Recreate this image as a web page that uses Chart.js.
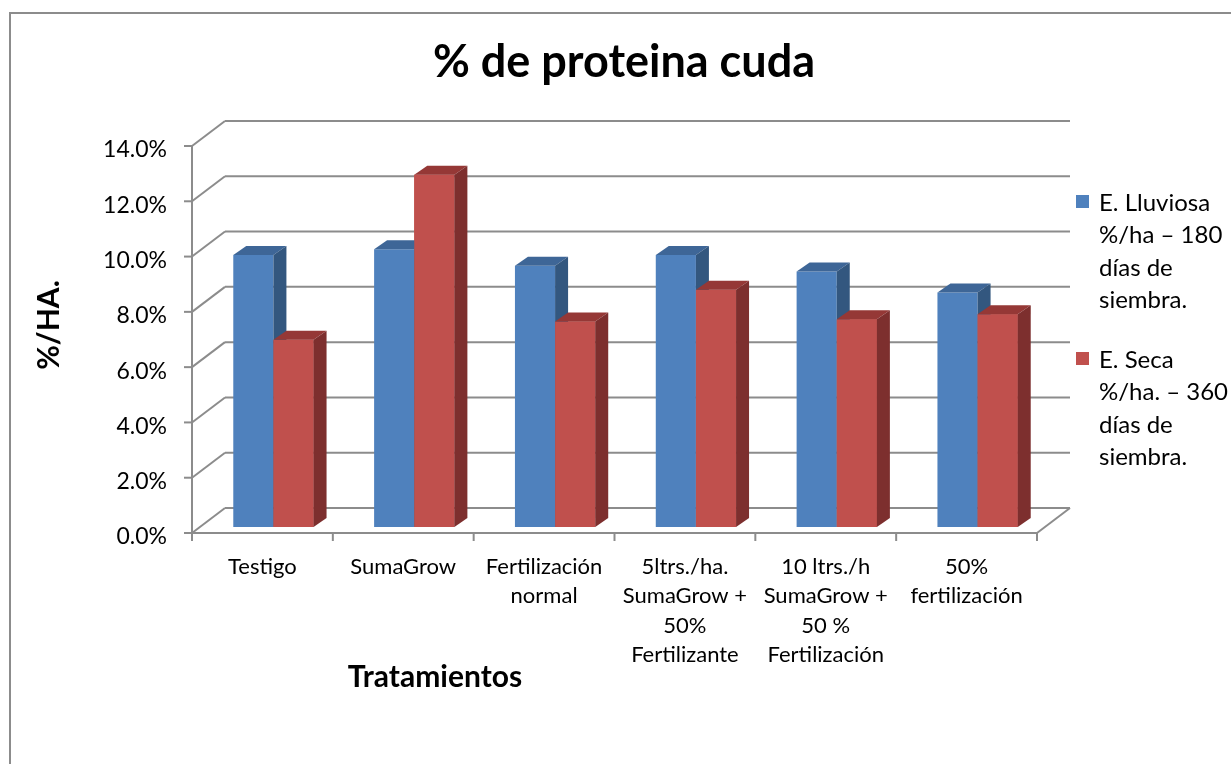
<!DOCTYPE html>
<html>
<head>
<meta charset="utf-8">
<title>% de proteina cuda</title>
<script src="https://cdn.jsdelivr.net/npm/chart.js@4.4.1/dist/chart.umd.min.js"></script>
<style>
  html, body { margin: 0; padding: 0; background: #fff; }
  #chart { display: block; }
</style>
</head>
<body>
<canvas id="chart" width="1231" height="764"></canvas>
<script>
// data (fractions, shown as %)
const categories = [
  ["Testigo"],
  ["SumaGrow"],
  ["Fertilización", "normal"],
  ["5ltrs./ha.", "SumaGrow +", "50%", "Fertilizante"],
  ["10 ltrs./h", "SumaGrow +", "50 %", "Fertilización"],
  ["50%", "fertilización"],
];
const lluviosa = [0.0984, 0.1005, 0.0945, 0.0984, 0.0924, 0.0848];
const seca = [0.0677, 0.1274, 0.0743, 0.0858, 0.0752, 0.0770];
const seriesLabels = [
  ["E. Lluviosa", "%/ha – 180", "días de", "siembra."],
  ["E. Seca", "%/ha. – 360", "días de", "siembra."],
];
const yTicks = { min: 0, max: 0.14, step: 0.02 };

const chartTitle = "% de proteina cuda";
const xTitle = "Tratamientos";
const yTitle = "%/HA.";

// colours: front, top, side
const blue = ["#4f81bd", "#3e6697", "#33577f"];
const red = ["#c0504d", "#953836", "#7d2f2e"];
const gridColor = "#8c8c8c";
const font = "Lato";

// 3d offsets relative to the bar plane
const FRONT = { dx: -11, dy: 6 };
const BACK = { dx: 22, dy: -19 };
const DEPTH = { dx: 13, dy: -9 };

function line(ctx, x1, y1, x2, y2) {
  ctx.beginPath();
  ctx.moveTo(x1, y1);
  ctx.lineTo(x2, y2);
  ctx.stroke();
}

function poly(ctx, pts, color) {
  ctx.beginPath();
  ctx.moveTo(pts[0][0], pts[0][1]);
  for (let p of pts.slice(1)) ctx.lineTo(p[0], p[1]);
  ctx.closePath();
  ctx.fillStyle = color;
  ctx.fill();
}

const wallsPlugin = {
  id: "walls",
  beforeDraw(chart) {
    const ctx = chart.ctx;
    ctx.save();
    ctx.strokeStyle = "#8c8c8c";
    ctx.lineWidth = 2;
    ctx.strokeRect(10, 13, 1400, 900);
    ctx.restore();
  },
  beforeDatasetsDraw(chart) {
    const { ctx, chartArea: a, scales } = chart;
    const x = scales.x, y = scales.y;
    ctx.save();
    ctx.strokeStyle = gridColor;
    ctx.lineWidth = 2;
    for (let t of y.ticks) {
      const py = y.getPixelForValue(t.value);
      line(ctx, a.left + BACK.dx, py + BACK.dy, a.right + BACK.dx, py + BACK.dy);
      line(ctx, a.left + FRONT.dx, py + FRONT.dy, a.left + BACK.dx, py + BACK.dy);
      line(ctx, a.left + FRONT.dx - 8, py + FRONT.dy, a.left + FRONT.dx, py + FRONT.dy);
    }
    const y0 = y.getPixelForValue(yTicks.min);
    const yTop = y.getPixelForValue(yTicks.max);
    // front vertical axis
    line(ctx, a.left + FRONT.dx, yTop + FRONT.dy, a.left + FRONT.dx, y0 + FRONT.dy);
    // floor front edge and right edge
    line(ctx, a.left + FRONT.dx, y0 + FRONT.dy, a.right + FRONT.dx, y0 + FRONT.dy);
    line(ctx, a.right + FRONT.dx, y0 + FRONT.dy, a.right + BACK.dx, y0 + BACK.dy);
    // category ticks
    for (let i = 0; i <= categories.length; i++) {
      const px = x.getPixelForValue(i - 0.5) + FRONT.dx;
      line(ctx, px, y0 + FRONT.dy, px, y0 + FRONT.dy + 8);
    }
    ctx.restore();
  },
  afterDatasetsDraw(chart) {
    const ctx = chart.ctx;
    const metas = [chart.getDatasetMeta(0), chart.getDatasetMeta(1)];
    const faces = [blue, red];
    ctx.save();
    for (let i = 0; i < categories.length; i++) {
      metas.forEach((meta, d) => {
        const el = meta.data[i];
        if (d > 0) el.draw(ctx);
        const { x, y, base, width } = el.getProps(["x", "y", "base", "width"], true);
        const l = x - width / 2, r = x + width / 2;
        poly(ctx, [[l, y], [r, y], [r + DEPTH.dx, y + DEPTH.dy], [l + DEPTH.dx, y + DEPTH.dy]], faces[d][1]);
        poly(ctx, [[r, y], [r + DEPTH.dx, y + DEPTH.dy], [r + DEPTH.dx, base + DEPTH.dy], [r, base]], faces[d][2]);
      });
    }
    ctx.restore();
  },
  afterDraw(chart) {
    const ctx = chart.ctx;
    ctx.save();
    ctx.fillStyle = "#000";
    ctx.textAlign = "center";
    ctx.textBaseline = "alphabetic";
    ctx.font = `bold 45px ${font}`;
    ctx.fillText(chartTitle, 624, 77);
    ctx.font = `bold 30px ${font}`;
    ctx.fillText(xTitle, 435, 687);
    ctx.save();
    ctx.translate(59, 325);
    ctx.rotate(-Math.PI / 2);
    ctx.fillText(yTitle, 0, 0);
    ctx.restore();

    // legend
    ctx.textAlign = "left";
    ctx.font = `24px ${font}`;
    const legendTop = [211, 368];
    const colors = [blue[0], red[0]];
    seriesLabels.forEach((lines, s) => {
      ctx.fillStyle = colors[s];
      ctx.fillRect(1076, legendTop[s] - 16, 13, 13);
      ctx.fillStyle = "#000";
      lines.forEach((txt, k) => ctx.fillText(txt, 1099, legendTop[s] + k * 32.3));
    });
    ctx.restore();
  },
};

async function run() {
  await Promise.all([
    document.fonts.load(`21px ${font}`),
    document.fonts.load(`bold 29px ${font}`),
  ]);

  new Chart(document.getElementById("chart"), {
    type: "bar",
    data: {
      labels: categories,
      datasets: [
        {
          label: seriesLabels[0].join(" "),
          data: lluviosa,
          backgroundColor: blue[0],
          categoryPercentage: 0.57,
          barPercentage: 1,
          borderWidth: 0,
        },
        {
          label: seriesLabels[1].join(" "),
          data: seca,
          backgroundColor: red[0],
          categoryPercentage: 0.57,
          barPercentage: 1,
          borderWidth: 0,
        },
      ],
    },
    options: {
      responsive: false,
      animation: false,
      events: [],
      layout: { padding: { left: 0, right: 183, top: 140, bottom: 87 } },
      plugins: {
        legend: { display: false },
        tooltip: { enabled: false },
        title: { display: false },
      },
      scales: {
        x: {
          grid: { display: false, drawTicks: false },
          border: { display: false },
          ticks: {
            color: "#000",
            font: { family: font, size: 22, lineHeight: 1.34 },
            padding: 25,
            labelOffset: FRONT.dx,
            maxRotation: 0,
            autoSkip: false,
          },
          afterFit: (s) => { s.height = 150; },
        },
        y: {
          min: yTicks.min,
          max: yTicks.max,
          grid: { display: false, drawTicks: false },
          border: { display: false },
          ticks: {
            stepSize: yTicks.step,
            color: "#000",
            font: { family: font, size: 23 },
            padding: 36,
            labelOffset: 10,
            callback: (v) => (v * 100).toFixed(1) + "%",
          },
          afterFit: (s) => { s.width = 203; },
        },
      },
    },
    plugins: [wallsPlugin],
  });
}

run();
</script>
</body>
</html>
